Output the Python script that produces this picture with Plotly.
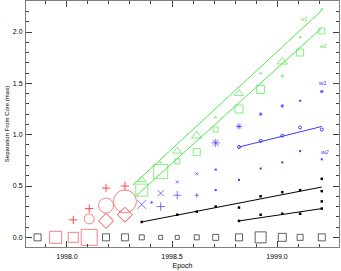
import plotly.graph_objects as go

# epochs of the observations (core sits at 0 separation)
epochs = [1997.860, 1997.946, 1998.030, 1998.106, 1998.186, 1998.276, 1998.356, 1998.446,
          1998.525, 1998.618, 1998.708, 1998.819, 1998.922, 1999.025, 1999.110, 1999.213]
core_sep = [0.0] * 16
core_size = [7, 12, 10, 16, 7, 7, 5, 4, 4, 5, 6, 7, 11, 8, 6, 7]
core_red = [False, True, True, True] + [False] * 12

# early red components
red_plus_x = [1998.030, 1998.106, 1998.186, 1998.276]
red_plus_y = [0.17, 0.28, 0.48, 0.50]
red_circ_x = [1998.106, 1998.186, 1998.276]
red_circ_y = [0.18, 0.31, 0.35]
red_circ_size = [10, 15, 23]
red_diam_x = [1998.186, 1998.276]
red_diam_y = [0.16, 0.22]

# green components e1 (triangles) and e2 (squares)
e1_x = [1998.356, 1998.446, 1998.525, 1998.618, 1998.708, 1998.819, 1998.922, 1999.025, 1999.110, 1999.213]
e1_y = [0.56, 0.73, 0.84, 0.99, 1.17, 1.40, 1.60, 1.71, 1.95, 2.22]
e1_size = [7, 2, 8, 9, 2, 8, 2, 9, 2, 2]
e2_x = [1998.356, 1998.446, 1998.525, 1998.618, 1998.708, 1998.819, 1998.922, 1999.025, 1999.110, 1999.213]
e2_y = [0.46, 0.64, 0.74, 0.83, 1.05, 1.25, 1.44, 1.57, 1.80, 2.01]
e2_size = [12, 14, 5, 7, 5, 8, 8, 2, 7, 6]
e1_fit_x = [1998.314, 1999.213]
e1_fit_y = [0.51, 2.21]
e2_fit_x = [1998.332, 1999.213]
e2_fit_y = [0.41, 2.04]

# blue components
w_x_x = [1998.356, 1998.446, 1998.525, 1998.618]
w_x_y = [0.32, 0.43, 0.54, 0.62]
w_x_size = [9, 6, 3, 3]
w_plus_x = [1998.446, 1998.525, 1998.618]
w_plus_y = [0.30, 0.41, 0.41]
w_plus_size = [6, 6, 3]
w1_x = [1998.708, 1998.819, 1998.922, 1999.025, 1999.110, 1999.213]
w1_y = [0.92, 1.08, 1.20, 1.28, 1.33, 1.42]
w1_size = [7, 5, 3, 3, 2, 3]
w2_x = [1998.403, 1998.708, 1998.708, 1998.819, 1998.922, 1999.025, 1999.110, 1999.213]
w2_y = [0.34, 0.66, 0.46, 0.56, 0.67, 0.73, 0.84, 0.76]
wm_x = [1998.819, 1998.922, 1999.025, 1999.110, 1999.213]
wm_y = [0.88, 0.94, 0.99, 1.07, 1.05]
wm_fit_x = [1998.819, 1999.213]
wm_fit_y = [0.88, 1.08]

# black components
k1_x = [1998.356, 1998.525, 1998.618, 1998.708, 1998.819, 1998.922, 1999.025, 1999.110, 1999.213, 1999.213, 1999.213]
k1_y = [0.15, 0.22, 0.25, 0.30, 0.29, 0.40, 0.44, 0.46, 0.45, 0.57, 0.35]
k1_fit_x = [1998.356, 1999.213]
k1_fit_y = [0.15, 0.49]
k2_x = [1998.819, 1998.922, 1999.025, 1999.110, 1999.213]
k2_y = [0.16, 0.22, 0.23, 0.23, 0.28]
k2_fit_x = [1998.819, 1999.213]
k2_fit_y = [0.16, 0.28]

RED = '#ff4a4a'
GREEN = '#4ee84e'
BLUE = '#3a3aff'
BLACK = '#000000'

fig = go.Figure()


def pts(x, y, symbol, color, size, width=1):
    fig.add_trace(go.Scatter(
        x=x, y=y, mode='markers',
        marker=dict(symbol=symbol, size=size, color=color,
                    line=dict(color=color, width=width)),
        hoverinfo='skip'))


def fit(x, y, color):
    fig.add_trace(go.Scatter(x=x, y=y, mode='lines',
                             line=dict(color=color, width=1), hoverinfo='skip'))


fit(e1_fit_x, e1_fit_y, GREEN)
fit(e2_fit_x, e2_fit_y, GREEN)
fit(wm_fit_x, wm_fit_y, BLUE)
fit(k1_fit_x, k1_fit_y, BLACK)
fit(k2_fit_x, k2_fit_y, BLACK)

core_col = [RED if r else '#202020' for r in core_red]
pts(epochs, core_sep, 'square-open', core_col, core_size)

pts(red_plus_x, red_plus_y, 'cross-thin-open', RED, 6)
pts(red_circ_x, red_circ_y, 'circle-open', RED, red_circ_size)
pts(red_diam_x, red_diam_y, 'diamond-open', RED, 11.5)

pts(e1_x, e1_y, 'triangle-up-open', GREEN, e1_size)
pts(e2_x, e2_y, 'square-open', GREEN, e2_size)

pts(w_x_x, w_x_y, 'x-thin-open', BLUE, w_x_size)
pts(w_plus_x, w_plus_y, 'cross-thin-open', BLUE, w_plus_size)
pts(w1_x, w1_y, 'asterisk-open', BLUE, w1_size)
pts(w2_x, w2_y, 'square', BLUE, 2, 0)
pts(wm_x, wm_y, 'circle-open', BLUE, 3)

pts(k1_x, k1_y, 'square', BLACK, 2.5, 0)
pts(k2_x, k2_y, 'square', BLACK, 2.5, 0)

for txt, x, y, c in [('e1', 1999.133, 2.13, GREEN), ('e2', 1999.22, 1.86, GREEN),
                     ('w1', 1999.22, 1.50, BLUE), ('w2', 1999.229, 0.83, BLUE)]:
    fig.add_annotation(x=x, y=y, text='<i>' + txt + '</i>', showarrow=False,
                       font=dict(size=6, color=c))

axis = dict(
    showgrid=False, zeroline=False, showline=True, linecolor='#808080', linewidth=1,
    mirror='allticks', ticks='inside', ticklen=6, tickcolor='#404040', tickwidth=1,
    tickfont=dict(size=7, color='black'),
    minor=dict(ticks='inside', ticklen=3, tickcolor='#404040', dtick=0.1),
)

fig.update_layout(
    width=341, height=271,
    margin=dict(l=26, r=2, t=1, b=24),
    plot_bgcolor='white', paper_bgcolor='white',
    showlegend=False,
    font=dict(family='Liberation Sans', size=7, color='black'),
    xaxis=dict(axis, range=[1997.805, 1999.295], tick0=1998.0, dtick=0.5,
               tickformat='.1f', ticklabelstandoff=3,
               title=dict(text='Epoch', font=dict(size=7, color='black'), standoff=3)),
    yaxis=dict(axis, range=[-0.094, 2.302], tick0=0, dtick=0.5, tickformat='.1f',
               ticklabelstandoff=1,
               title=dict(text='Separation From Core (mas)', font=dict(size=6, color='black'), standoff=2)),
)

fig.write_html("out.html", config={'displayModeBar': False},
               post_script="document.body.style.margin='0';")
